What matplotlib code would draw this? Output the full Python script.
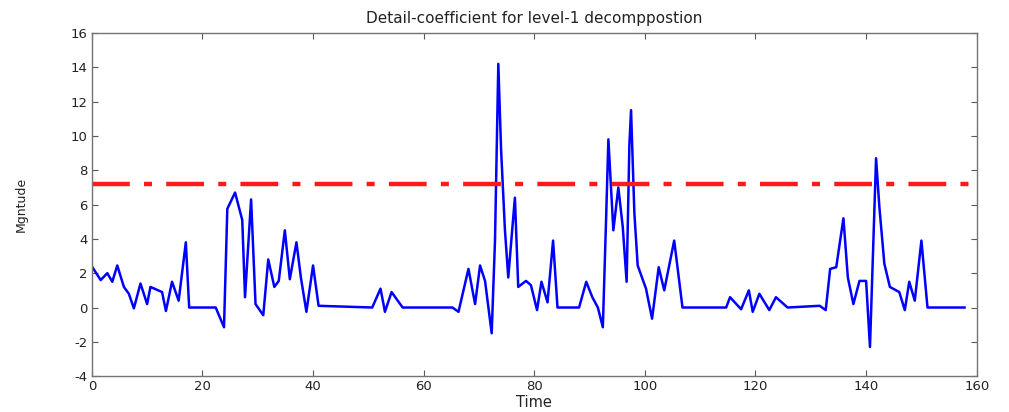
import matplotlib
matplotlib.use("Agg")
import matplotlib.pyplot as plt

# vertices of the detail-coefficient trace
time = [0, 1.6, 2.8, 3.7, 4.6, 5.8, 6.7, 7.6, 8.8, 10, 10.6, 12.7, 13.4, 14.5,
        15.7, 17, 17.6, 22.4, 23.9, 24.5, 25.9, 27.2, 27.7, 28.8, 29.6, 31,
        31.9, 33, 33.8, 34.9, 35.8, 37, 37.8, 38.8, 40, 41, 50.7, 52.2, 53,
        54.2, 56.2, 65.2, 66.3, 68.1, 69.3, 70.2, 71.1, 72.3, 72.9, 73.5, 74,
        74.7, 75.3, 75.9, 76.5, 77.1, 78.5, 79.4, 80.5, 81.3, 82.4, 83.4, 84.2,
        88.1, 89.4, 90.5, 91.5, 92.4, 93, 93.4, 94.3, 95.2, 96, 96.7, 97.2,
        97.5, 98.1, 98.7, 100.2, 101.3, 102.5, 103.5, 105.3, 106.8, 114.7,
        115.4, 117.4, 118.8, 119.5, 120.7, 122.5, 123.7, 125.8, 131.6, 132.7,
        133.5, 134.6, 135.9, 136.7, 137.7, 138.8, 140, 140.7, 141.3, 141.8,
        142.4, 143.3, 144.3, 146, 147, 147.8, 148.8, 150, 151.1, 157.8]
magnitude = [2.4, 1.6, 2.0, 1.5, 2.45, 1.2, 0.8, -0.05, 1.4, 0.2, 1.2, 0.9,
             -0.2, 1.5, 0.4, 3.8, 0, 0, -1.15, 5.75, 6.7, 5.1, 0.6, 6.3, 0.2,
             -0.45, 2.8, 1.2, 1.55, 4.5, 1.65, 3.8, 1.75, -0.25, 2.45, 0.1, 0,
             1.1, -0.25, 0.9, 0, 0, -0.25, 2.25, 0.2, 2.45, 1.55, -1.5, 3.9,
             14.2, 9.2, 4.5, 1.75, 4.1, 6.4, 1.2, 1.55, 1.3, -0.15, 1.5, 0.3,
             3.9, 0, 0, 1.5, 0.6, 0, -1.15, 5.3, 9.8, 4.5, 7.0, 4.7, 1.5, 9.5,
             11.5, 5.5, 2.45, 1.1, -0.65, 2.35, 1.0, 3.9, 0, 0, 0.6, -0.1, 1.0,
             -0.25, 0.8, -0.15, 0.6, 0, 0.1, -0.15, 2.25, 2.35, 5.2, 1.75, 0.2,
             1.55, 1.55, -2.3, 3.7, 8.7, 5.85, 2.55, 1.2, 0.9, -0.15, 1.5, 0.4,
             3.9, 0, 0]
threshold = 7.2
x_ticks = [0, 20, 40, 60, 80, 100, 120, 140, 160]
y_ticks = [-4, -2, 0, 2, 4, 6, 8, 10, 12, 14, 16]

plt.rcParams['font.family'] = ['DejaVu Sans']
plt.rcParams['axes.unicode_minus'] = False

fig = plt.figure(figsize=(10.09, 4.12), dpi=100)
ax = fig.add_axes([0.091, 0.087, 0.877, 0.833])

ax.plot(time, magnitude, color="#0000ff", linewidth=1.8)
ax.plot([x_ticks[0], x_ticks[-1]], [threshold, threshold], color="#ff1a1a",
        linewidth=3.2, dashes=(8.5, 3.2, 1.8, 3.2))

ax.set_xlim(0, 160)
ax.set_ylim(-4, 16)
ax.set_xticks(x_ticks)
ax.set_yticks(y_ticks)
ax.tick_params(direction="in", length=4, top=True, right=True, width=0.8,
               colors="0.35", labelcolor="#222222", labelsize=9.5, pad=3)
for s in ax.spines.values():
    s.set_color("0.45")
    s.set_linewidth(1)

ax.set_title("Detail-coefficient for level-1 decomppostion", fontsize=11,
             color="#222222", pad=7)
ax.set_xlabel("Time", fontsize=10.5, color="#222222", labelpad=1)
ax.set_ylabel("Mgntude", fontsize=9, color="#222222", labelpad=31)

fig.savefig("out.png", dpi=100)
